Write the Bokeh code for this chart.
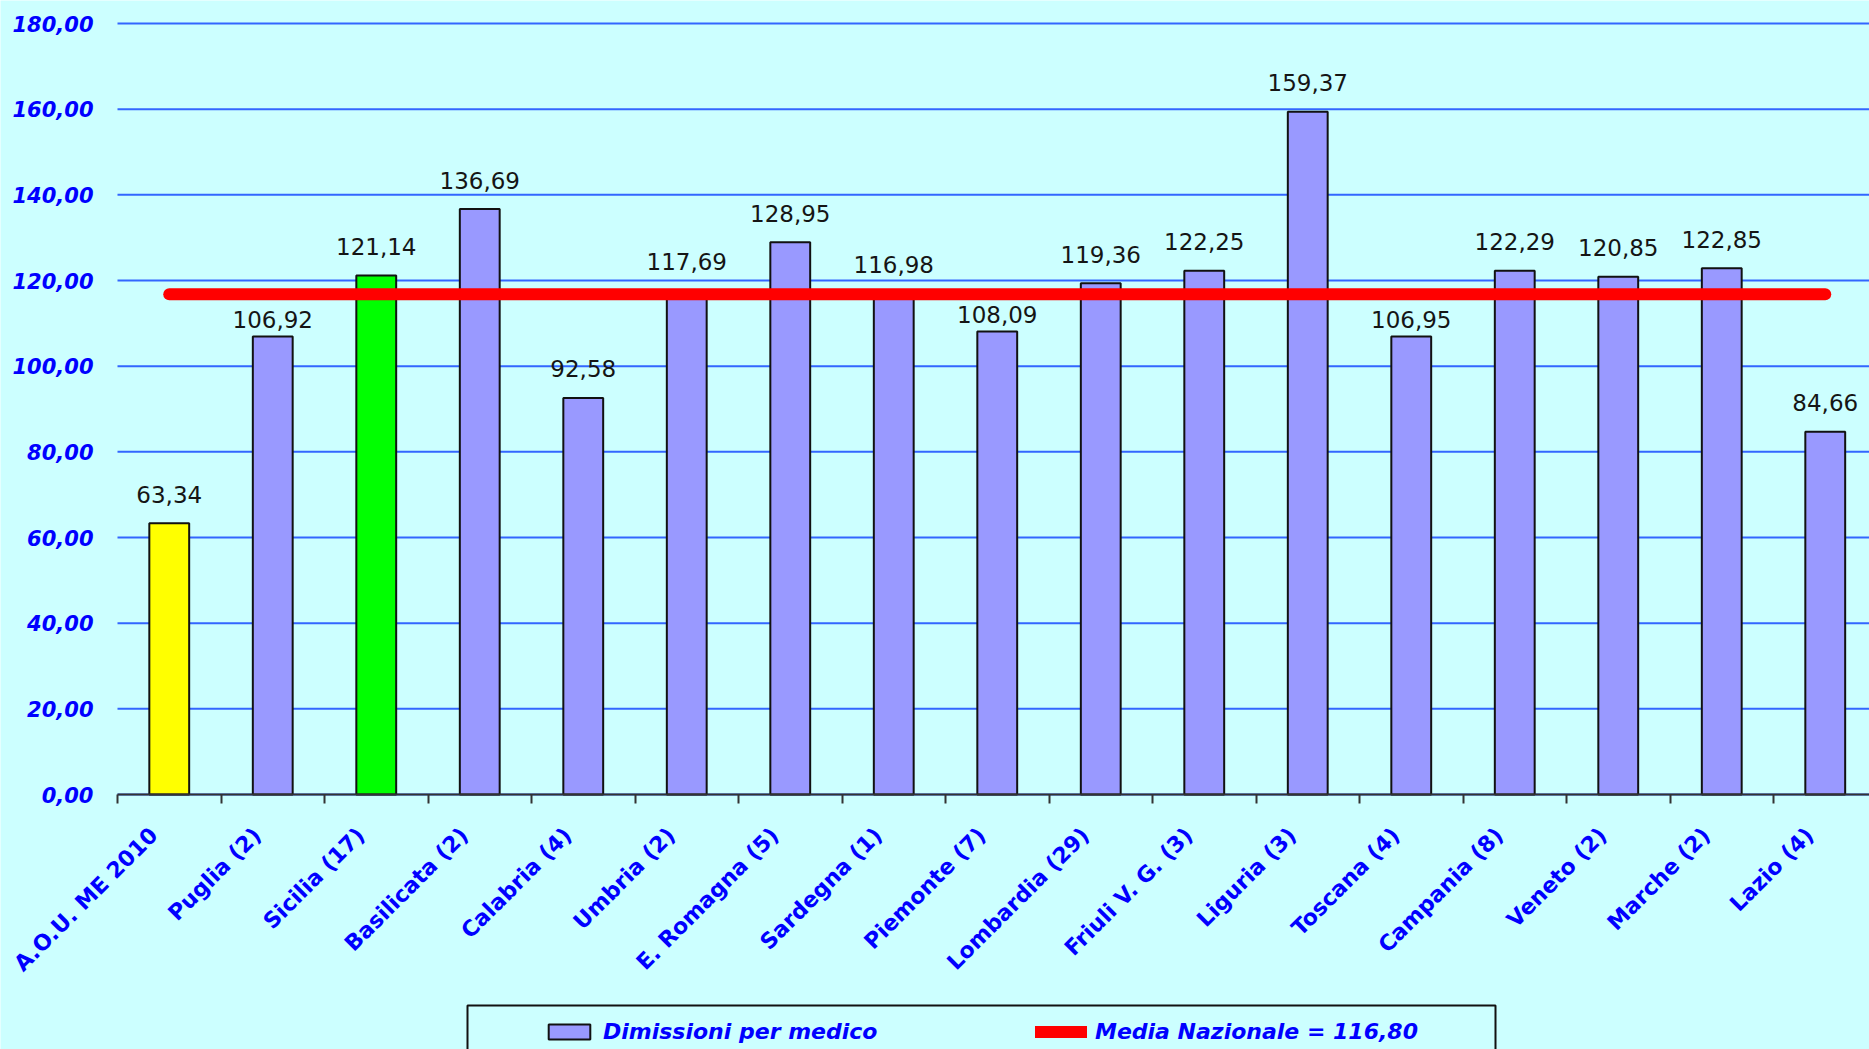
import math
from bokeh.plotting import figure
from bokeh.models import ColumnDataSource, FixedTicker, Range1d, Legend, LegendItem, BoxAnnotation
from bokeh.embed import file_html
from bokeh.resources import INLINE
from bokeh.core.properties import value

categories = ["A.O.U. ME 2010", "Puglia (2)", "Sicilia (17)", "Basilicata (2)", "Calabria (4)",
              "Umbria (2)", "E. Romagna (5)", "Sardegna (1)", "Piemonte (7)", "Lombardia (29)",
              "Friuli V. G. (3)", "Liguria (3)", "Toscana (4)", "Campania (8)", "Veneto (2)",
              "Marche (2)", "Lazio (4)"]
dimissioni = [63.34, 106.92, 121.14, 136.69, 92.58, 117.69, 128.95, 116.98, 108.09, 119.36,
              122.25, 159.37, 106.95, 122.29, 120.85, 122.85, 84.66]
bar_colors = ["#FFFF00", "#9999FF", "#00FF00", "#9999FF", "#9999FF", "#9999FF", "#9999FF",
              "#9999FF", "#9999FF", "#9999FF", "#9999FF", "#9999FF", "#9999FF", "#9999FF",
              "#9999FF", "#9999FF", "#9999FF"]
media_nazionale = 116.80
y_ticks = [0, 20, 40, 60, 80, 100, 120, 140, 160, 180]
series_name = "Dimissioni per medico"
media_name = "Media Nazionale"


def fmt(v):
    return f"{v:.2f}".replace(".", ",")


# ---- layout (pixels) ----
W, H = 1869, 1049
AXIS_LEFT = 117       # pixel column where the category axis starts
TOP_ROW = 23          # pixel row of the top gridline
ZERO_ROW = 794        # pixel row of the category axis
CAT_PX = 103.5        # width of one category slot
LABEL_SHIFT = 0.15    # category labels sit slightly left of the slot centre
AVG_LINE_W = 12
LABEL_GAP = 21        # label baseline above bar top
LABEL_GAP_NEAR = 9    # used when the label would collide with the average line
LABEL_H = 17
TEXT_FIX = 8          # compensation for the renderer's baseline placement

n = len(categories)
px_per_unit = (ZERO_ROW - TOP_ROW) / (y_ticks[-1] - y_ticks[0])
x_start = -0.5 - AXIS_LEFT / CAT_PX
x_end = -0.5 + (W - AXIS_LEFT) / CAT_PX
y_start = -(H - ZERO_ROW) / px_per_unit
y_end = y_ticks[-1] + TOP_ROW / px_per_unit

# data-label placement (pixels -> data units)
avg_lo = media_nazionale - (AVG_LINE_W / 2) / px_per_unit
avg_hi = media_nazionale + (AVG_LINE_W / 2) / px_per_unit
label_y = []
for v in dimissioni:
    gap = LABEL_GAP
    base = v + gap / px_per_unit
    if base < avg_hi and base + LABEL_H / px_per_unit > avg_lo:
        gap = LABEL_GAP_NEAR
    label_y.append(v + (gap + TEXT_FIX) / px_per_unit)

src = ColumnDataSource(dict(
    x=list(range(n)),
    top=dimissioni,
    color=bar_colors,
    label=[fmt(v) for v in dimissioni],
    label_y=label_y,
))

p = figure(width=W, height=H,
           x_range=Range1d(x_start, x_end),
           y_range=Range1d(y_start, y_end),
           output_backend="svg", toolbar_location=None,
           min_border_left=0, min_border_right=0,
           min_border_top=0, min_border_bottom=0,
           background_fill_color="#CCFFFF", border_fill_color="#CCFFFF",
           outline_line_color=None)

p.xgrid.visible = False
p.ygrid.visible = False

# horizontal gridlines across the plotting area
p.segment(x0=[-0.5] * len(y_ticks), x1=[x_end] * len(y_ticks), y0=y_ticks, y1=y_ticks,
          line_color="#3366FF", line_width=2)

# y axis
p.yaxis.fixed_location = -0.5
p.yaxis.bounds = (y_ticks[0], y_ticks[-1])
p.yaxis.ticker = FixedTicker(ticks=y_ticks)
p.yaxis.major_label_overrides = {t: fmt(t) for t in y_ticks}
p.yaxis.axis_line_color = None
p.yaxis.major_tick_line_color = None
p.yaxis.minor_tick_line_color = None
p.yaxis.major_label_standoff = 18
p.yaxis.major_label_text_font = "DejaVu Sans"
p.yaxis.major_label_text_font_style = "bold italic"
p.yaxis.major_label_text_font_size = "21px"
p.yaxis.major_label_text_color = "#0000FF"

# x axis
label_pos = [i - LABEL_SHIFT for i in range(n)]
p.xaxis.fixed_location = 0
p.xaxis.bounds = (-0.5, x_end)
p.xaxis.ticker = FixedTicker(ticks=label_pos, minor_ticks=[i - 0.5 for i in range(n + 1)])
p.xaxis.major_label_overrides = {pos: c for pos, c in zip(label_pos, categories)}
p.xaxis.major_label_orientation = math.pi / 4
p.xaxis.major_tick_out = 0
p.xaxis.major_tick_in = 0
p.xaxis.minor_tick_out = 9
p.xaxis.minor_tick_in = 0
p.xaxis.minor_tick_line_color = "#333333"
p.xaxis.minor_tick_line_width = 2
p.xaxis.axis_line_color = "#333333"
p.xaxis.axis_line_width = 2
p.xaxis.major_label_standoff = 28
p.xaxis.major_label_text_font = "DejaVu Sans"
p.xaxis.major_label_text_font_style = "bold"
p.xaxis.major_label_text_font_size = "22px"
p.xaxis.major_label_text_color = "#0000FF"

bars = p.vbar(x="x", top="top", width=0.385, fill_color="color", line_color="#111111",
              line_width=2, source=src)
avg = p.line(x=[0, n - 1], y=[media_nazionale, media_nazionale], line_color="#FF0000",
             line_width=AVG_LINE_W, line_cap="round")
p.text(x="x", y="label_y", text="label", source=src, text_align="center",
       text_baseline="alphabetic", text_font=value("DejaVu Sans"),
       text_font_size="23px", text_color="#151515")

legend = Legend(items=[
    LegendItem(label=series_name, renderers=[bars], index=1),
    LegendItem(label=media_name + " = " + fmt(media_nazionale), renderers=[avg]),
], orientation="horizontal", location=(543, 5), padding=0, spacing=32, margin=0,
    glyph_width=52, glyph_height=19, label_width=400, label_standoff=8, label_height=26,
    label_text_font="DejaVu Sans", label_text_font_style="bold italic",
    label_text_font_size="22px", label_text_color="#0000FF",
    border_line_alpha=0, background_fill_alpha=0)
p.add_layout(legend)

box = BoxAnnotation(left=467, right=1495, top=44, bottom=-20,
                    left_units="screen", right_units="screen",
                    top_units="screen", bottom_units="screen",
                    fill_alpha=0, line_color="#111111", line_alpha=1, line_width=2)
p.add_layout(box)

open("out.html", "w").write(file_html(p, INLINE))
